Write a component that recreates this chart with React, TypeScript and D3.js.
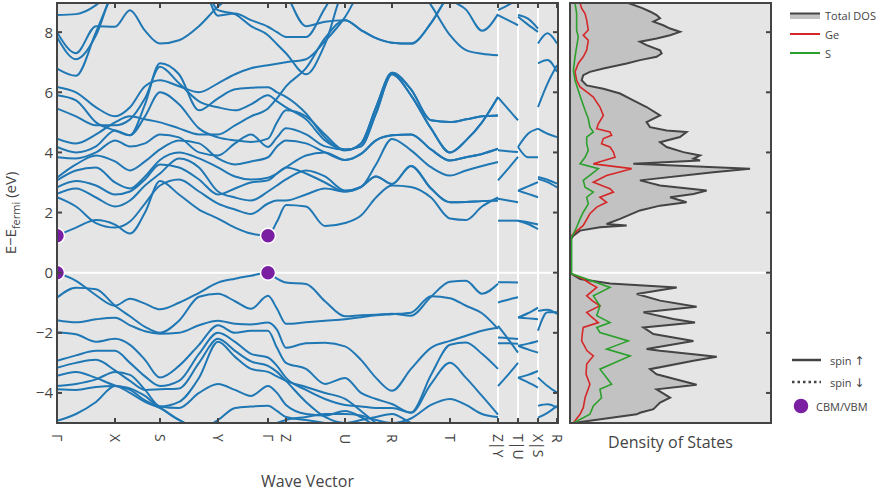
import React from "react"
import * as d3 from "d3"

// k-path labels and their positions along the path
const kLabels = ["Γ", "X", "S", "Y", "Γ", "Z", "U", "R", "T", "Z|Y", "T|U", "X|S", "R"]
const kTicks = [0, 58, 103, 161, 211, 229, 288, 335, 393, 441, 461, 481, 500]
const kBreaks = [441, 461, 481]

// main path Γ-X-S-Y-Γ-Z-U-R-T-Z sample points
const kGrid = [0, 19, 39, 58, 73, 88, 103, 122, 142, 161, 178, 194, 211, 220, 229, 249, 268, 288, 304, 319, 335, 354, 374, 393, 409, 425, 441]

const valenceBands = [
  [0, -0.27, -0.75, -1.1, -0.87, -1.03, -1.22, -1.0, -0.67, -0.33, -0.2, -0.1, 0, -0.2, -0.33, -0.38, -0.95, -1.45, -1.42, -1.4, -1.37, -1.43, -0.8, -0.3, -0.27, -0.7, -0.37],
  [-0.83, -0.5, -0.55, -1.1, -1.45, -1.8, -2.0, -1.6, -0.8, -0.7, -0.95, -1.2, -0.77, -1.2, -1.7, -1.65, -1.6, -1.55, -1.48, -1.42, -1.38, -1.33, -0.78, -0.85, -1.1, -1.35, -1.87],
  [-1.58, -1.65, -1.55, -1.5, -1.75, -1.95, -2.03, -2.0, -1.75, -1.6, -1.7, -1.72, -1.66, -1.9, -2.5, -2.35, -2.33, -2.45, -2.9, -3.5, -3.93, -3.2, -2.5, -2.27, -2.1, -1.93, -1.83],
  [-1.99, -2.05, -2.3, -2.2, -2.4, -2.9, -3.49, -3.1, -2.4, -1.75, -2.0, -1.93, -1.93, -2.5, -3.0, -3.2, -3.7, -3.5, -4.0, -4.2, -4.37, -4.65, -3.4, -2.4, -2.32, -2.7, -3.2],
  [-2.93, -2.75, -2.6, -2.6, -3.0, -3.45, -3.77, -3.6, -2.7, -2.0, -2.3, -2.7, -2.82, -3.1, -3.5, -3.9, -4.2, -4.4, -4.45, -4.5, -4.5, -4.66, -3.7, -3.0, -3.5, -4.1, -4.72],
  [-3.16, -3.0, -2.9, -3.25, -3.6, -3.9, -3.88, -3.85, -3.0, -2.2, -2.6, -2.95, -3.1, -3.3, -3.6, -4.3, -4.8, -5.0, -4.9, -4.8, -4.7, -5.0, -5.2, -5.3, -5.3, -5.3, -5.3],
  [-3.43, -3.3, -3.5, -3.75, -3.85, -4.1, -4.45, -4.3, -3.5, -2.3, -2.8, -3.2, -3.3, -3.45, -3.6, -3.8, -4.0, -4.2, -4.6, -5.0, -5.3, -5.4, -5.4, -5.4, -5.4, -5.4, -5.4],
  [-3.77, -3.7, -3.55, -3.3, -3.4, -3.9, -4.45, -4.5, -4.0, -3.7, -3.9, -4.1, -3.77, -4.0, -4.4, -4.7, -4.75, -4.6, -4.8, -5.1, -5.3, -5.4, -5.4, -5.4, -5.4, -5.4, -5.4],
  [-3.88, -3.9, -3.8, -3.77, -4.0, -4.3, -4.5, -4.9, -5.2, -4.9, -4.5, -4.45, -4.43, -4.6, -4.8, -4.9, -5.0, -5.1, -5.2, -5.3, -5.4, -5.4, -5.4, -5.4, -5.4, -5.4, -5.4],
  [-4.93, -4.7, -4.3, -3.77, -3.9, -4.25, -4.5, -4.9, -5.2, -5.3, -5.35, -5.2, -5.1, -5.0, -4.9, -4.8, -4.7, -4.7, -4.75, -4.9, -5.0, -4.85, -4.4, -4.2, -4.4, -4.7, -4.8],
]

const conductionBands = [
  [1.23, 1.5, 1.75, 1.6, 1.3, 2.0, 3.05, 2.6, 2.1, 1.8, 1.5, 1.3, 1.23, 1.7, 2.25, 2.2, 1.55, 1.65, 1.9, 2.5, 2.9, 2.85, 2.5, 1.8, 1.75, 2.2, 2.5],
  [2.51, 2.2, 1.65, 1.5, 1.7, 2.3, 2.9, 3.1, 2.7, 2.3, 2.1, 1.95, 2.3, 2.4, 2.4, 2.6, 2.8, 2.7, 2.85, 3.2, 2.95, 3.55, 2.8, 2.34, 2.35, 2.38, 2.4],
  [2.62, 2.8, 2.5, 2.2, 2.4, 2.9, 3.3, 3.8, 3.5, 2.7, 2.5, 2.4, 2.7, 2.9, 3.1, 3.4, 3.2, 2.73, 2.85, 3.6, 4.45, 4.07, 3.51, 3.23, 3.4, 3.55, 3.68],
  [2.84, 3.05, 2.9, 2.6, 2.7, 3.1, 3.6, 3.5, 3.1, 2.6, 2.8, 3.0, 3.07, 3.3, 3.5, 3.9, 4.0, 3.75, 3.95, 4.4, 4.57, 4.6, 4.1, 3.73, 3.84, 3.95, 4.12],
  [5.46, 5.2, 4.9, 4.9, 5.1, 5.8, 6.85, 6.3, 5.7, 5.5, 5.4, 5.6, 5.9, 5.7, 5.5, 5.1, 4.4, 4.1, 4.2, 5.3, 6.6, 5.9, 4.8, 4.0, 4.4, 5.0, 5.84],
  [5.9, 5.73, 5.0, 4.73, 4.57, 5.6, 6.97, 6.6, 5.4, 5.8, 6.1, 6.15, 6.17, 6.0, 5.85, 5.3, 4.5, 4.07, 4.3, 5.5, 6.65, 6.1, 5.07, 5.01, 5.1, 5.2, 5.23],
  [3.07, 3.4, 3.5, 3.0, 2.8, 3.2, 3.75, 4.0, 3.8, 3.5, 3.2, 3.1, 3.16, 3.3, 3.5, 3.3, 3.0, 2.7, 2.85, 3.2, 2.95, 3.55, 2.8, 2.34, 2.35, 2.38, 2.4],
  [3.16, 3.6, 3.9, 3.7, 3.4, 3.7, 4.1, 4.4, 4.3, 3.8, 3.6, 3.7, 3.84, 4.2, 4.4, 4.3, 4.0, 3.75, 3.95, 4.4, 4.57, 4.6, 4.1, 3.73, 3.84, 3.95, 4.12],
  [3.84, 3.8, 4.0, 4.4, 4.2, 4.3, 4.6, 4.5, 4.0, 3.9, 4.3, 4.6, 4.18, 4.5, 4.8, 4.6, 4.2, 4.1, 4.2, 5.3, 6.6, 5.9, 4.8, 4.0, 4.4, 5.0, 5.84],
  [4.18, 4.0, 4.2, 4.73, 4.57, 5.2, 6.0, 5.6, 4.8, 4.5, 4.4, 4.35, 4.46, 5.0, 5.4, 5.2, 4.6, 4.07, 4.3, 5.5, 6.65, 6.1, 5.07, 5.01, 5.1, 5.2, 5.23],
  [4.46, 4.3, 4.6, 5.0, 5.2, 5.1, 5.0, 4.8, 4.6, 4.6, 4.9, 5.2, 5.46, 5.8, 6.2, 6.8, 7.8, 8.4, 8.07, 7.8, 7.65, 7.62, 8.3, 9.3, 9.8, 9.8, 9.8],
  [6.18, 6.0, 5.5, 5.2, 5.5, 6.2, 6.4, 6.2, 6.0, 6.3, 6.6, 6.8, 6.9, 6.95, 7.0, 7.1, 7.7, 8.5, 9.4, 9.8, 9.8, 9.8, 9.8, 9.8, 9.8, 9.8, 9.8],
  [6.79, 6.55, 8.0, 9.4, 9.8, 9.8, 9.8, 9.8, 9.8, 8.73, 8.6, 8.2, 7.9, 7.6, 7.3, 6.6, 7.6, 9.5, 9.8, 9.8, 9.8, 9.8, 9.8, 9.8, 9.8, 9.8, 9.8],
  [7.84, 7.1, 7.9, 9.5, 9.8, 9.8, 9.8, 9.8, 9.8, 8.55, 8.62, 8.4, 8.18, 8.0, 7.84, 7.84, 8.8, 9.8, 9.8, 9.8, 9.8, 9.8, 9.8, 9.1, 8.75, 8.05, 8.6],
  [8.0, 7.3, 8.2, 8.18, 8.73, 8.05, 7.62, 7.73, 8.2, 8.85, 9.3, 9.8, 9.8, 9.8, 9.3, 8.2, 8.35, 8.4, 8.07, 7.8, 7.65, 7.62, 8.3, 9.3, 9.8, 9.8, 9.8],
  [8.57, 8.6, 8.9, 9.5, 9.8, 9.8, 9.8, 9.8, 9.8, 9.8, 9.8, 9.8, 9.8, 9.8, 9.8, 9.8, 9.8, 9.8, 9.8, 9.8, 9.8, 9.8, 8.9, 7.9, 7.4, 7.28, 7.23],
]

// short disconnected segments Y-T, U-X, S-R
const kYT = [441, 451, 461]
const bandsYT = [
  [-0.32, -0.32, -0.33], [-0.99, -0.9, -0.82], [-1.77, -2.2, -2.66], [-2.16, -2.18, -2.21], [-2.35, -2.35, -2.36], [-3.77, -3.4, -3.0],
  [1.73, 1.73, 1.73], [2.46, 2.4, 2.34], [3.07, 3.45, 3.85], [4.07, 4.04, 4.01], [5.83, 5.45, 5.07], [8.57, 8.4, 8.23], [8.73, 8.9, 9.1],
]
const kUX = [461, 471, 481]
const bandsUX = [
  [-1.49, -1.35, -1.16], [-1.49, -1.52, -1.55], [-2.43, -2.36, -2.27], [-2.43, -2.55, -2.66], [-3.49, -3.4, -3.27], [-3.49, -3.65, -3.82],
  [1.73, 1.62, 1.45], [1.73, 1.68, 1.6], [2.73, 2.87, 3.01], [2.73, 2.62, 2.51], [4.18, 4.62, 4.79], [4.18, 3.84, 3.84], [8.57, 8.45, 8.12], [8.51, 8.25, 8.01],
]
const kSR = [481, 490.5, 500]
const bandsSR = [
  [-1.93, -1.32, -1.32], [-1.27, -1.23, -1.37], [-3.49, -3.77, -3.99], [-4.43, -4.38, -4.49], [-4.82, -4.66, -4.43],
  [3.12, 3.01, 2.84], [3.18, 3.09, 2.96], [4.79, 4.62, 4.51], [5.51, 6.29, 6.9], [6.96, 7.07, 6.68], [7.62, 7.96, 7.62],
]

// band edges (CBM / VBM)
const edgeK = [0, 0, 211, 211]
const edgeE = [1.23, 0, 1.23, 0]

// density of states
const totalE = [-5.0, -4.71, -4.66, -4.54, -4.32, -4.16, -3.88, -3.73, -3.38, -3.21, -2.93, -2.8, -2.71, -2.6, -2.54, -2.27, -2.04, -1.82, -1.66, -1.54, -1.32, -1.13, -0.93, -0.71, -0.49, -0.36, -0.21, -0.04, 0.0, 1.07, 1.23, 1.4, 1.51, 1.57, 1.62, 1.79, 2.07, 2.23, 2.34, 2.51, 2.62, 2.73, 2.9, 3.07, 3.34, 3.46, 3.62, 3.73, 3.79, 3.9, 4.01, 4.18, 4.34, 4.51, 4.68, 4.73, 4.84, 5.01, 5.23, 5.51, 5.73, 5.96, 6.12, 6.23, 6.4, 6.57, 6.68, 6.79, 6.96, 7.07, 7.18, 7.29, 7.4, 7.57, 7.68, 7.79, 7.9, 8.01, 8.12, 8.23, 8.35, 8.46, 8.57, 8.68, 8.8, 8.97]
const totalDos = [0.17, 3.32, 3.48, 4.15, 4.48, 4.98, 4.31, 6.3, 4.31, 3.98, 6.14, 7.3, 6.14, 4.48, 3.81, 6.14, 4.15, 3.65, 6.22, 5.14, 3.65, 6.3, 4.48, 3.32, 5.31, 1.99, 0.5, 0.08, 0, 0, 0.17, 0.5, 1.49, 2.82, 1.82, 2.49, 3.48, 4.48, 5.8, 4.98, 6.14, 6.8, 4.48, 3.48, 7.13, 8.96, 3.15, 6.47, 6.14, 6.47, 5.64, 4.81, 4.48, 5.47, 5.8, 4.81, 3.98, 3.81, 4.48, 3.81, 3.15, 2.49, 1.66, 0.83, 0.58, 0.66, 0.99, 1.66, 2.82, 3.48, 4.31, 4.56, 4.48, 3.81, 3.48, 4.31, 4.98, 5.47, 4.98, 4.64, 4.15, 4.48, 4.31, 4.0, 3.6, 2.9]
const geE = [-5.0, -4.71, -4.49, -4.16, -3.71, -3.38, -3.04, -2.77, -2.6, -2.27, -1.99, -1.82, -1.66, -1.43, -1.32, -1.1, -0.93, -0.77, -0.49, -0.36, -0.21, -0.04, 0.0, 1.18, 1.29, 1.57, 1.96, 2.18, 2.34, 2.51, 2.68, 2.79, 3.01, 3.23, 3.46, 3.62, 3.84, 4.01, 4.18, 4.29, 4.46, 4.57, 4.68, 4.79, 4.95, 5.23, 5.51, 5.84, 6.01, 6.18, 6.4, 6.68, 6.96, 7.18, 7.4, 7.73, 7.9, 8.07, 8.4, 8.62, 8.79, 8.97]
const geDos = [0.17, 0.5, 0.66, 0.75, 0.99, 0.8, 0.83, 1.16, 0.85, 0.58, 0.62, 0.66, 1.41, 1.0, 0.83, 1.49, 1.1, 0.83, 1.33, 1.0, 0.66, 0.08, 0, 0, 0.17, 0.66, 0.99, 1.33, 1.82, 1.49, 2.16, 1.99, 1.16, 1.82, 3.07, 1.16, 2.24, 2.16, 1.99, 1.57, 1.66, 2.07, 1.99, 1.33, 1.41, 1.66, 1.49, 1.16, 0.83, 0.5, 0.33, 0.25, 0.41, 0.66, 0.83, 0.91, 0.66, 0.91, 0.83, 0.75, 0.58, 0.5]
const sE = [-5.0, -4.71, -4.43, -4.16, -3.88, -3.71, -3.21, -2.77, -2.54, -2.27, -1.99, -1.82, -1.66, -1.43, -1.1, -0.77, -0.49, -0.21, -0.04, 0.0, 1.18, 1.29, 1.51, 1.79, 2.01, 2.29, 2.51, 2.68, 2.84, 3.07, 3.29, 3.46, 3.62, 3.84, 4.07, 4.29, 4.51, 4.68, 4.84, 5.12, 5.4, 5.73, 6.07, 6.4, 6.73, 7.18, 7.51, 7.84, 8.07, 8.62, 8.97]
const sDos = [0.17, 0.99, 1.16, 1.57, 1.49, 2.07, 1.49, 2.99, 1.82, 2.9, 1.49, 1.33, 1.99, 1.33, 1.49, 1.16, 1.99, 0.83, 0.08, 0.08, 0.08, 0.17, 0.33, 0.5, 0.66, 0.91, 0.83, 1.16, 0.75, 0.66, 1.08, 1.41, 0.5, 0.75, 0.91, 0.83, 0.83, 1.16, 0.99, 0.91, 0.75, 0.58, 0.41, 0.25, 0.17, 0.25, 0.33, 0.41, 0.33, 0.33, 0.25]

const yTicks = [-4, -2, 0, 2, 4, 6, 8]

const W = 879
const H = 492
const P = { left: 57, right: 558, top: 3, bottom: 423 }
const D = { left: 570, right: 771 }

const FONT = "'Open Sans', 'Noto Sans', sans-serif"
const TXT = "#444"
const BAND = "#1f77b4"
const PURPLE = "#7b1fa2"

export default function App() {
  const x = d3.scaleLinear().domain([0, 501]).range([P.left, P.right])
  const y = d3.scaleLinear().domain([-5, 8.97]).range([P.bottom, P.top])
  const xd = d3.scaleLinear().domain([0, 10]).range([D.left, D.right])

  const line = d3
    .line<[number, number]>()
    .x((d) => x(d[0]))
    .y((d) => y(d[1]))
    .curve(d3.curveMonotoneX)

  const segments: { ks: number[]; bands: number[][] }[] = [
    { ks: kGrid, bands: [...valenceBands, ...conductionBands] },
    { ks: kYT, bands: bandsYT },
    { ks: kUX, bands: bandsUX },
    { ks: kSR, bands: bandsSR },
  ]

  const dosLine = d3
    .line<[number, number]>()
    .x((d) => xd(d[1]))
    .y((d) => y(d[0]))
  const dosArea = d3
    .area<[number, number]>()
    .y((d) => y(d[0]))
    .x0(xd(0))
    .x1((d) => xd(d[1]))

  const totalPts = totalE.map((e, i) => [e, totalDos[i]] as [number, number])
  const gePts = geE.map((e, i) => [e, geDos[i]] as [number, number])
  const sPts = sE.map((e, i) => [e, sDos[i]] as [number, number])

  return (
    <svg width={W} height={H} style={{ position: "absolute", left: 0, top: 0, background: "#fff" }} fontFamily={FONT}>
      <defs>
        <clipPath id="bandClip">
          <rect x={P.left} y={P.top} width={P.right - P.left} height={P.bottom - P.top} />
        </clipPath>
        <clipPath id="dosClip">
          <rect x={D.left} y={P.top} width={D.right - D.left} height={P.bottom - P.top} />
        </clipPath>
      </defs>

      {/* band structure panel */}
      <rect x={P.left} y={P.top} width={P.right - P.left} height={P.bottom - P.top} fill="#e5e5e5" />
      <line x1={P.left} x2={P.right} y1={y(0)} y2={y(0)} stroke="#fff" strokeWidth={2} />
      {kBreaks.map((k) => (
        <line key={k} x1={x(k)} x2={x(k)} y1={P.top} y2={P.bottom} stroke="#fff" strokeWidth={2} />
      ))}
      <g clipPath="url(#bandClip)">
        {segments.map((s, si) =>
          s.bands.map((b, bi) => (
            <path
              key={`${si}-${bi}`}
              d={line(s.ks.map((k, i) => [k, b[i]] as [number, number])) || ""}
              fill="none"
              stroke={BAND}
              strokeWidth={2}
            />
          ))
        )}
        {edgeK.map((k, i) => (
          <circle key={i} cx={x(k)} cy={y(edgeE[i])} r={7.5} fill={PURPLE} stroke="#fff" strokeWidth={1.5} />
        ))}
      </g>
      <rect x={P.left} y={P.top} width={P.right - P.left} height={P.bottom - P.top} fill="none" stroke="#444" strokeWidth={2} />
      {yTicks.map((t) => (
        <g key={t}>
          <line x1={P.left} x2={P.left + 5} y1={y(t)} y2={y(t)} stroke="#444" strokeWidth={2} />
          <line x1={P.right - 5} x2={P.right} y1={y(t)} y2={y(t)} stroke="#444" strokeWidth={2} />
          <text x={P.left - 4} y={y(t)} dy="0.36em" textAnchor="end" fontSize={15} fill={TXT}>
            {t < 0 ? `−${-t}` : t}
          </text>
        </g>
      ))}
      {kTicks.map((k, i) => (
        <g key={i}>
          <line x1={x(k)} x2={x(k)} y1={P.bottom} y2={P.bottom - 5} stroke="#444" strokeWidth={2} />
          <line x1={x(k)} x2={x(k)} y1={P.top} y2={P.top + 5} stroke="#444" strokeWidth={2} />
          <text
            transform={`translate(${x(k)},${P.bottom + 11}) rotate(90)`}
            dy="0.35em"
            textAnchor="start"
            fontSize={14}
            fill={TXT}
          >
            {kLabels[i]}
          </text>
        </g>
      ))}
      <text x={(P.left + P.right) / 2} y={487} textAnchor="middle" fontSize={16} fill={TXT}>
        Wave Vector
      </text>
      <text transform={`translate(16,${(P.top + P.bottom) / 2}) rotate(-90)`} textAnchor="middle" fontSize={15} fill={TXT}>
        E−E<tspan fontSize={11} dy={4}>fermi</tspan>
        <tspan dy={-4}> (eV)</tspan>
      </text>

      {/* DOS panel */}
      <rect x={D.left} y={P.top} width={D.right - D.left} height={P.bottom - P.top} fill="#e5e5e5" />
      <line x1={D.left} x2={D.right} y1={y(0)} y2={y(0)} stroke="#fff" strokeWidth={2} />
      <g clipPath="url(#dosClip)">
        <path d={dosArea(totalPts) || ""} fill="#c2c2c2" />
        <path d={dosLine(totalPts) || ""} fill="none" stroke="#444" strokeWidth={2} />
        <path d={dosLine(gePts) || ""} fill="none" stroke="#d62728" strokeWidth={1.6} />
        <path d={dosLine(sPts) || ""} fill="none" stroke="#2ca02c" strokeWidth={1.6} />
      </g>
      <rect x={D.left} y={P.top} width={D.right - D.left} height={P.bottom - P.top} fill="none" stroke="#444" strokeWidth={2} />
      {yTicks.map((t) => (
        <line key={t} x1={D.right - 5} x2={D.right} y1={y(t)} y2={y(t)} stroke="#444" strokeWidth={2} />
      ))}
      <text x={(D.left + D.right) / 2} y={448} textAnchor="middle" fontSize={16} fill={TXT}>
        Density of States
      </text>

      {/* legends */}
      <g fontSize={11} fill={TXT}>
        <rect x={790} y={13} width={30} height={6} fill="#c2c2c2" />
        <line x1={790} x2={820} y1={13.5} y2={13.5} stroke="#444" strokeWidth={2} />
        <text x={825} y={20}>Total DOS</text>
        <line x1={790} x2={820} y1={34} y2={34} stroke="#d62728" strokeWidth={2} />
        <text x={825} y={39}>Ge</text>
        <line x1={790} x2={820} y1={53} y2={53} stroke="#2ca02c" strokeWidth={2} />
        <text x={825} y={58}>S</text>

        <line x1={792} x2={821} y1={360} y2={360} stroke="#444" strokeWidth={2.5} />
        <text x={830} y={365}>
          spin <tspan fontFamily="'DejaVu Sans', sans-serif" fontSize={12}>↑</tspan>
        </text>
        <line x1={792} x2={821} y1={382} y2={382} stroke="#444" strokeWidth={2.5} strokeDasharray="2.5,3" />
        <text x={830} y={387}>
          spin <tspan fontFamily="'DejaVu Sans', sans-serif" fontSize={12}>↓</tspan>
        </text>
        <circle cx={801} cy={406} r={8} fill={PURPLE} stroke="#fff" strokeWidth={1.5} />
        <text x={816} y={411}>CBM/VBM</text>
      </g>
    </svg>
  )
}
